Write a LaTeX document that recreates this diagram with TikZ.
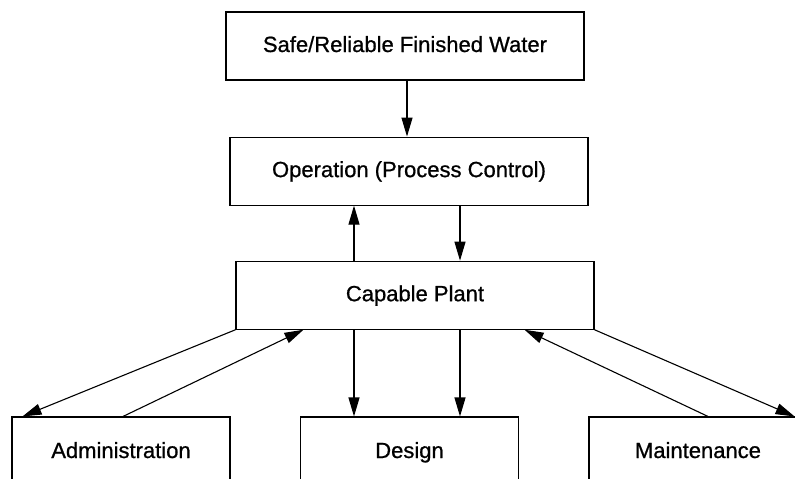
\documentclass[tikz,border=0pt]{standalone}
\usepackage{fontspec}
\setmainfont{Liberation Sans}
\newfontfamily\boxfont[FakeBold=0.8]{Liberation Sans}
\usetikzlibrary{arrows.meta,positioning,calc}

\begin{document}
\begin{tikzpicture}[
    x=1pt, y=-1pt,
    box/.style={rectangle, draw, line width=1.1pt, minimum width=358pt, minimum height=68pt, align=center, text height=16pt, text depth=4pt, font=\boxfont\fontsize{22}{26}\selectfont},
    leaf/.style={box, minimum width=218pt, minimum height=70pt},
    arrow/.style={-{Triangle[length=19pt, width=11pt]}, line width=1.1pt}
  ]
    \useasboundingbox (0,0) rectangle (795,479);
    \node[box] (water) at (405,46) {Safe/Reliable Finished Water};
    \node[box, below=56pt of water, xshift=4pt] (oper) {Operation (Process Control)};
    \node[box, below=55pt of oper, xshift=6pt] (plant) {Capable Plant};
    \node[leaf] (admin) at (121,452) {Administration};
    \node[leaf] (design) at (409.5,452) {Design};
    \node[leaf] (maint) at (698,452) {Maintenance};

    \draw[arrow] ([xshift=2pt]water.south) -- ([xshift=2pt]water.south |- oper.north);
    \draw[arrow] ([xshift=-61pt]plant.north) -- ([xshift=-61pt]plant.north |- oper.south);
    \draw[arrow] ([xshift=45pt]plant.north |- oper.south) -- ([xshift=45pt]plant.north);
    \draw[arrow] ([xshift=-61pt]plant.south) -- ([xshift=-61pt]plant.south |- design.north);
    \draw[arrow] ([xshift=45pt]plant.south) -- ([xshift=45pt]plant.south |- design.north);
    \draw[arrow] (plant.south west) -- ([xshift=11pt]admin.north west);
    \draw[arrow] ([xshift=2pt]admin.north) -- ([xshift=68pt]plant.south west);
    \draw[arrow] ([xshift=10pt]maint.north) -- ([xshift=-70pt]plant.south east);
    \draw[arrow] (plant.south east) -- ([xshift=-13pt]maint.north east);
  \end{tikzpicture}
\end{document}
